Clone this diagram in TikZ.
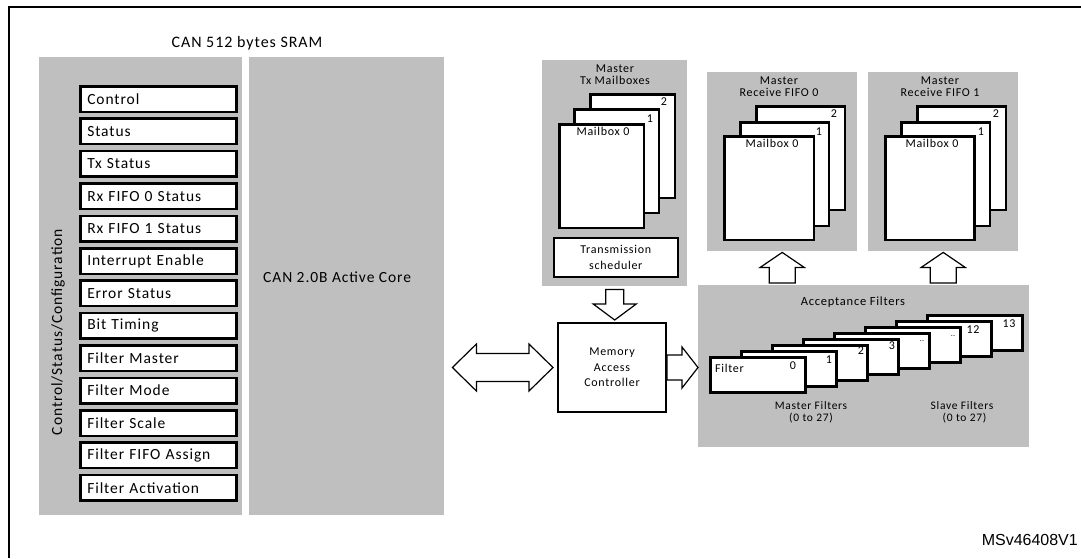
\documentclass[tikz,border=0pt]{standalone}
\usepackage{fontspec}
\setmainfont{Carlito}[LetterSpace=6]
\newfontfamily\arialf{Liberation Sans}
\usetikzlibrary{calc}
\tikzset{
 panel/.style={fill=gray!50, draw=none, inner sep=0pt, anchor=north west},
 reg/.style={draw, line width=2.5pt, fill=white, anchor=north west, minimum height=25.5pt,
   text width=142pt, inner xsep=7pt, inner ysep=0pt, align=left, font=\fontsize{15.5}{16}\selectfont},
 card/.style={draw, line width=2.5pt, fill=white, anchor=north west, inner sep=0pt},
 small/.style={font=\fontsize{12}{12}\selectfont, align=center, inner sep=0pt},
 big/.style={font=\fontsize{15.5}{18}\selectfont, inner sep=0pt},
 barrowst/.style={draw, fill=white, line width=1.2pt, line join=miter},
}
\newcommand{\blockarrow}[5]{%
  \draw[barrowst] let \p1=($(#2)-(#1)$), \n1={atan2(\y1,\x1)} in
    ($(#1)+(\n1+90:#3)$) -- ($(#2)!#5!(#1)+(\n1+90:#3)$) -- ($(#2)!#5!(#1)+(\n1+90:#4)$) -- (#2)
    -- ($(#2)!#5!(#1)+(\n1-90:#4)$) -- ($(#2)!#5!(#1)+(\n1-90:#3)$) -- ($(#1)+(\n1-90:#3)$) -- cycle;}
\begin{document}
\begin{tikzpicture}[x=1pt,y=-1pt]
\useasboundingbox (0,0) rectangle (1081,558);
\fill[white] (0,0) rectangle (1081,558);
% frame
\draw[line width=2pt] (9,558) -- (9,7) -- (1081,7);

% SRAM part
\node[font=\fontsize{16}{18}\selectfont, inner sep=0pt] (sramlbl) at (247,43) {CAN 512 bytes SRAM};
\node[panel, minimum width=203pt, minimum height=458pt] (sram) at (39,57) {};
\node[panel, minimum width=195pt, minimum height=458pt] (core) at (249,57) {};
\foreach \t [count=\i from 0] in {Control, Status, Tx Status, Rx FIFO 0 Status, Rx FIFO 1 Status,
  Interrupt Enable, Error Status, Bit Timing, Filter Master, Filter Mode, Filter Scale,
  Filter FIFO Assign, Filter Activation}
  \node[reg] (r\i) at (79,{85+32.4*\i}) {\t};
\node[big, rotate=90] (csc) at (58,332) {Control/Status/Configuration};
\node[big, anchor=west] (corelbl) at (263,277) {CAN 2.0B Active Core};

% Tx mailboxes
\node[panel, minimum width=145pt, minimum height=226pt] (tx) at (542,60) {};
\node[small, font=\fontsize{12}{12}\selectfont] (txlbl) at (615,75) {Master\\Tx Mailboxes};
\node[card, minimum width=84.5pt, minimum height=103.5pt] (tx2) at (589,93) {};
\node[card, minimum width=84.5pt, minimum height=103.5pt] (tx1) at (573,108) {};
\node[card, minimum width=84.5pt, minimum height=103.5pt] (tx0) at (558,123) {};
\node[small] (tx0l) at (603,131) {Mailbox 0};
\node[small] (tx1l) at (650,119) {1};
\node[small] (tx2l) at (664,102) {2};
\node[draw, line width=1.5pt, fill=white, minimum width=124pt, minimum height=39pt, anchor=north west,
  inner sep=0pt, align=center, font=\fontsize{12}{16}\selectfont] (sched) at (553,237) {Transmission\\scheduler};

% Receive FIFO 0
\node[panel, minimum width=150pt, minimum height=179pt] (fifo0) at (707,72) {};
\node[small] (f0lbl) at (779,87) {Master\\Receive FIFO 0};
\node[card, minimum width=88.5pt, minimum height=103.5pt] (a2) at (755,105) {};
\node[card, minimum width=88.5pt, minimum height=103.5pt] (a1) at (739,121) {};
\node[card, minimum width=89.5pt, minimum height=103.5pt] (a0) at (723,135) {};
\node[small] (a0l) at (772,143) {Mailbox 0};
\node[small] (a1l) at (819,132) {1};
\node[small] (a2l) at (834,114) {2};

% Receive FIFO 1
\node[panel, minimum width=150pt, minimum height=179pt] (fifo1) at (868,72) {};
\node[small] (f1lbl) at (940,87) {Master\\Receive FIFO 1};
\node[card, minimum width=88.5pt, minimum height=103.5pt] (b2) at (916,105) {};
\node[card, minimum width=88.5pt, minimum height=103.5pt] (b1) at (900,121) {};
\node[card, minimum width=89pt, minimum height=103.5pt] (b0) at (884,135) {};
\node[small] (b0l) at (932,143) {Mailbox 0};
\node[small] (b1l) at (981,132) {1};
\node[small] (b2l) at (996,114) {2};

% Memory access controller
\node[draw, line width=2pt, fill=white, minimum width=108pt, minimum height=89pt, anchor=north west,
  inner sep=0pt, align=center, font=\fontsize{12}{15.5}\selectfont] (mac) at (557,322) {Memory\\Access\\Controller};

% Acceptance filters
\node[panel, minimum width=331pt, minimum height=162pt] (acc) at (698,285) {};
\node[font=\fontsize{12.5}{14}\selectfont, inner sep=0pt] (acclbl) at (853,302) {Acceptance Filters};
\foreach \i in {7,6,...,0}
  \node[card, minimum width=95pt, minimum height=35pt] (fl\i) at ({709+31*\i},{356-6*\i}) {};
\node[small] (fl0l) at (793,366) {0};
\node[small] (fl1l) at (829,360) {1};
\node[small] (fl2l) at (861,351) {2};
\node[small] (fl3l) at (892,346) {3};
\node[small, font=\fontsize{8}{8}\selectfont] (fl4l) at (922,341) {..};
\node[small, font=\fontsize{8}{8}\selectfont] (fl5l) at (953,336) {..};
\node[small] (fl6l) at (973,330) {12};
\node[small] (fl7l) at (1009,324) {13};
\node[small, anchor=west] (filt) at (715,368) {Filter};
\node[small, font=\fontsize{11.5}{12}\selectfont] (mfl) at (811,412) {Master Filters\\(0 to 27)};
\node[small, font=\fontsize{11.5}{12}\selectfont] (sfl) at (962,412) {Slave Filters\\\hspace*{5pt}(0 to 27)};

% block arrows
\coordinate (dal) at ($(core.east |- mac.west)+(8,0)$);
\coordinate (dar) at ($(mac.west)+(-4,0)$);
\draw[barrowst] (dal) -- ++(24,-23.5) -- ++(0,9.5) -- ($(dar)+(-24,-14)$) -- ++(0,-9.5) -- (dar)
  -- ++(-24,23.5) -- ++(0,-9.5) -- ($(dal)+(24,14)$) -- ++(0,9.5) -- cycle;
\coordinate (dt0) at ($(tx.south)+(0,3)$);
\coordinate (dt1) at ($(tx.south |- mac.north)+(0,-2)$);
\blockarrow{dt0}{dt1}{9pt}{21.5pt}{16pt}
\coordinate (ra1) at (acc.west |- mac.east);
\blockarrow{mac.east}{ra1}{12.5pt}{20.5pt}{16pt}
\coordinate (u0a) at ($(acc.north -| fifo0.south)+(0,-2)$);
\coordinate (u0b) at ($(fifo0.south)+(0,1)$);
\blockarrow{u0a}{u0b}{13pt}{22pt}{15pt}
\coordinate (u1a) at ($(acc.north -| fifo1.south)+(0,-2)$);
\coordinate (u1b) at ($(fifo1.south)+(0,1)$);
\blockarrow{u1a}{u1b}{13pt}{22pt}{15pt}

\node[font=\arialf\fontsize{16}{18}\selectfont, anchor=east, inner sep=0pt] (msv) at (1078,540) {MSv46408V1};
\end{tikzpicture}
\end{document}
